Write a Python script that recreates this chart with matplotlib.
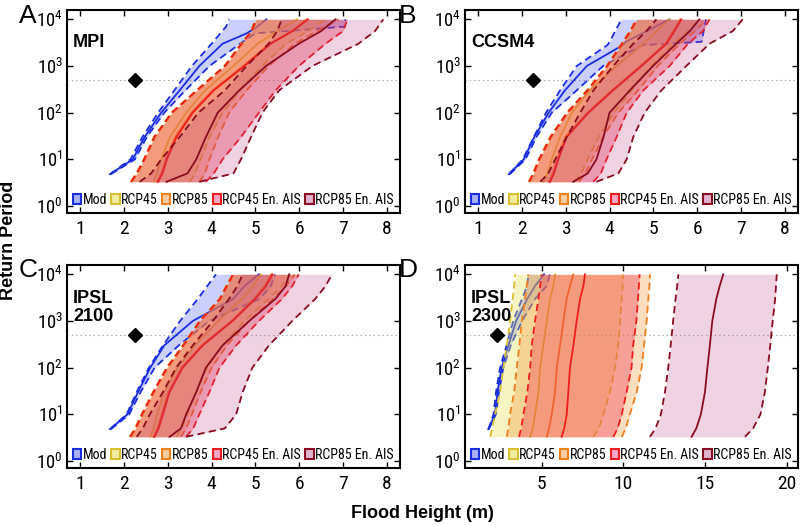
import math
import matplotlib
matplotlib.use('Agg')
import matplotlib.pyplot as plt
from matplotlib import font_manager as fm
from matplotlib.patches import Patch
from matplotlib.ticker import FixedLocator, FuncFormatter, NullLocator


def pick(names):
    for n in names:
        try:
            fm.findfont(fm.FontProperties(family=n), fallback_to_default=False)
            return n
        except Exception:
            pass
    return 'DejaVu Sans'


NARROW = pick(['Liberation Sans Narrow', 'Arial Narrow', 'Roboto Condensed', 'Liberation Sans'])
BOLD = pick(['Liberation Sans', 'Arial', 'DejaVu Sans'])
plt.rcParams['font.family'] = [NARROW, 'DejaVu Sans']
plt.rcParams['mathtext.fontset'] = 'custom'
plt.rcParams['mathtext.rm'] = NARROW
plt.rcParams['mathtext.default'] = 'regular'

# ---------------- data ----------------
series_names = ['Mod', 'RCP45', 'RCP85', 'RCP45 En. AIS', 'RCP85 En. AIS']
panel_letters = ['A', 'B', 'C', 'D']
panel_titles = ['MPI', 'CCSM4', 'IPSL\n2100', 'IPSL\n2300']
obs_height = 2.25
obs_return_period = 500

return_period = [3.3, 5, 10, 30, 100, 300, 1000, 3000, 5600, 10000]

# Panel A (MPI)
A_mod_rp = [4.8, 10, 30, 100, 300, 1000, 3000, 5000, 7000, 10000]
A_mod_lo = [1.68, 2.15, 2.42, 2.78, 3.15, 3.55, 4.0, 4.2, 4.33, 4.4]
A_mod_med = [1.68, 2.2, 2.47, 2.85, 3.27, 3.72, 4.25, 4.8, 5.05, 5.25]
A_mod_hi = [1.70, 2.25, 2.52, 2.92, 3.4, 3.95, 4.65, 5.0, 7.05, 7.05]
A_rcp45_lo = [2.15, 2.28, 2.45, 2.68, 3.08, 3.65, 4.29, 4.67, 4.9, 5.0]
A_rcp45_med = [2.68, 2.75, 2.85, 3.05, 3.42, 3.85, 4.5, 5.05, 5.5, 5.95]
A_rcp45_hi = [3.5, 3.62, 3.75, 3.95, 4.25, 4.65, 5.15, 5.7, 6.2, 6.6]
A_rcp85_lo = [2.18, 2.31, 2.48, 2.71, 3.11, 3.68, 4.32, 4.7, 4.93, 5.03]
A_rcp85_med = [2.75, 2.85, 2.95, 3.17, 3.54, 4.02, 4.72, 5.32, 5.82, 6.17]
A_rcp85_hi = [3.72, 3.85, 3.95, 4.15, 4.4, 4.8, 5.3, 5.9, 6.4, 6.9]
A_ais45_lo = [2.16, 2.29, 2.46, 2.69, 3.09, 3.66, 4.3, 4.68, 4.91, 5.01]
A_ais45_med = [2.78, 2.88, 2.98, 3.2, 3.57, 4.05, 4.75, 5.35, 5.85, 6.2]
A_ais45_hi = [3.87, 4.05, 4.25, 4.67, 5.08, 5.46, 5.99, 6.6, 7.0, 7.1]
A_ais85_lo = [2.36, 2.62, 2.85, 3.27, 3.7, 4.3, 4.8, 5.3, 5.5, 5.6]
A_ais85_med = [2.97, 3.45, 3.65, 3.87, 4.14, 4.63, 5.24, 5.99, 6.5, 6.83]
A_ais85_hi = [3.72, 4.5, 4.67, 4.9, 5.16, 5.54, 6.3, 7.35, 7.73, 7.92]

# Panel B (CCSM4)
B_mod_rp = [4.8, 10, 30, 100, 300, 1000, 2800, 3300, 10000]
B_mod_lo = [1.70, 2.02, 2.27, 2.55, 2.87, 3.25, 3.95, 4.0, 4.27]
B_mod_med = [1.70, 2.04, 2.28, 2.61, 2.98, 3.48, 4.3, 4.37, 5.37]
B_mod_hi = [1.72, 2.08, 2.33, 2.68, 3.25, 3.85, 4.75, 6.1, 6.2]
B_rcp45_lo = [2.15, 2.25, 2.38, 2.64, 3.02, 3.48, 3.93, 4.27, 4.46, 4.61]
B_rcp45_med = [2.49, 2.58, 2.68, 2.87, 3.14, 3.55, 4.16, 4.77, 5.07, 5.37]
B_rcp45_hi = [3.2, 3.35, 3.5, 3.75, 4.1, 4.5, 4.95, 5.45, 5.8, 6.05]
B_rcp85_lo = [2.18, 2.28, 2.41, 2.67, 3.05, 3.51, 3.96, 4.3, 4.49, 4.64]
B_rcp85_med = [2.61, 2.7, 2.8, 2.99, 3.49, 4.05, 4.7, 5.27, 5.45, 5.61]
B_rcp85_hi = [3.3, 3.45, 3.6, 3.85, 4.2, 4.65, 5.1, 5.6, 5.95, 6.2]
B_ais45_lo = [2.16, 2.26, 2.39, 2.65, 3.03, 3.49, 3.94, 4.28, 4.47, 4.62]
B_ais45_med = [2.64, 2.73, 2.83, 3.02, 3.52, 4.08, 4.73, 5.3, 5.48, 5.64]
B_ais45_hi = [3.63, 3.8, 3.93, 4.16, 4.39, 4.77, 5.37, 5.79, 6.13, 6.28]
B_ais85_lo = [2.42, 2.6, 2.76, 3.02, 3.33, 3.63, 4.08, 4.54, 4.84, 5.07]
B_ais85_med = [3.17, 3.5, 3.7, 3.86, 4.0, 4.46, 4.99, 5.52, 5.83, 6.05]
B_ais85_hi = [3.7, 4.2, 4.39, 4.54, 4.8, 5.18, 5.75, 6.28, 6.81, 7.04]

# Panel C (IPSL 2100)
C_mod_rp = [4.8, 10, 30, 100, 300, 1000, 3000, 5600, 10000]
C_mod_lo = [1.68, 2.06, 2.29, 2.57, 2.89, 3.28, 3.69, 3.9, 4.1]
C_mod_med = [1.68, 2.08, 2.32, 2.6, 2.92, 3.57, 4.5, 4.75, 5.08]
C_mod_hi = [1.70, 2.12, 2.38, 2.7, 3.25, 3.95, 5.1, 5.35, 5.45]
C_rcp45_lo = [2.13, 2.25, 2.4, 2.66, 2.97, 3.34, 3.72, 4.18, 4.33, 4.48]
C_rcp45_med = [2.6, 2.68, 2.76, 2.92, 3.22, 3.62, 4.15, 4.7, 4.95, 5.12]
C_rcp45_hi = [3.2, 3.32, 3.45, 3.65, 3.9, 4.25, 4.75, 5.3, 5.6, 5.8]
C_rcp85_lo = [2.16, 2.28, 2.43, 2.69, 3.0, 3.37, 3.75, 4.21, 4.36, 4.51]
C_rcp85_med = [2.67, 2.76, 2.86, 3.01, 3.31, 3.77, 4.45, 4.97, 5.21, 5.36]
C_rcp85_hi = [3.3, 3.42, 3.55, 3.75, 4.0, 4.35, 4.85, 5.4, 5.7, 5.9]
C_ais45_lo = [2.14, 2.26, 2.41, 2.67, 2.98, 3.35, 3.73, 4.19, 4.34, 4.49]
C_ais45_med = [2.7, 2.79, 2.89, 3.04, 3.34, 3.8, 4.48, 5.0, 5.24, 5.39]
C_ais45_hi = [3.42, 3.58, 3.72, 3.95, 4.18, 4.56, 5.08, 5.61, 5.84, 5.99]
C_ais85_lo = [2.29, 2.43, 2.59, 2.89, 3.19, 3.57, 4.03, 4.4, 4.59, 4.71]
C_ais85_med = [3.04, 3.3, 3.42, 3.65, 3.87, 4.25, 4.86, 5.46, 5.69, 5.77]
C_ais85_hi = [3.42, 4.3, 4.56, 4.71, 4.93, 5.31, 5.84, 6.37, 6.6, 6.75]

# Panel D (IPSL 2300)
D_mod_rp = [4.8, 10, 30, 100, 300, 1000, 3000, 5600, 10000]
D_mod_lo = [1.73, 2.05, 2.2, 2.45, 2.85, 3.25, 3.8, 4.1, 4.2]
D_mod_med = [1.73, 2.14, 2.29, 2.55, 2.96, 3.43, 4.12, 4.59, 5.14]
D_mod_hi = [1.75, 2.2, 2.38, 2.65, 3.1, 3.8, 4.6, 5.3, 5.5]
D_rcp45_lo = [1.84, 1.98, 2.14, 2.45, 2.65, 2.86, 3.06, 3.22, 3.31, 3.37]
D_rcp45_med = [4.29, 4.45, 4.59, 4.8, 4.9, 5.1, 5.31, 5.51, 5.71, 5.82]
D_rcp45_hi = [8.16, 8.5, 8.78, 9.18, 9.49, 9.69, 9.8, 9.9, 9.96, 10.0]
D_rcp85_lo = [2.86, 2.95, 3.06, 3.31, 3.47, 3.63, 3.78, 3.98, 4.08, 4.18]
D_rcp85_med = [5.31, 5.45, 5.61, 5.82, 5.92, 6.12, 6.33, 6.53, 6.73, 6.94]
D_rcp85_hi = [9.9, 10.15, 10.4, 10.82, 11.12, 11.27, 11.43, 11.53, 11.6, 11.63]
D_ais45_lo = [3.61, 3.74, 3.88, 4.12, 4.29, 4.39, 4.59, 4.8, 4.9, 5.0]
D_ais45_med = [6.22, 6.38, 6.53, 6.63, 6.73, 6.94, 7.14, 7.35, 7.55, 7.65]
D_ais45_hi = [9.39, 9.65, 9.9, 10.2, 10.5, 10.6, 10.8, 10.9, 10.95, 11.0]
D_ais85_lo = [11.63, 11.97, 12.3, 12.55, 12.75, 12.9, 13.05, 13.2, 13.3, 13.37]
D_ais85_med = [14.18, 14.47, 14.75, 15.0, 15.15, 15.3, 15.45, 15.7, 15.9, 16.12]
D_ais85_hi = [17.45, 17.95, 18.4, 18.67, 18.85, 19.0, 19.15, 19.3, 19.35, 19.4]

x_ticks_ABC = [1, 2, 3, 4, 5, 6, 7, 8]
x_ticks_D = [5, 10, 15, 20]
y_ticks = [1, 10, 100, 1000, 10000]

# ---------------- styles ----------------
line_colors = ['#1a2ee0', '#d8c030', '#f07f1e', '#ee1c1c', '#8a0c20']
fill_colors = ['#3040f0', '#e8e050', '#f59030', '#f03050', '#b83a80']
fill_alpha = [0.25, 0.35, 0.30, 0.35, 0.22]
legend_faces = ['#aab2f4', '#f0eca0', '#f8cca4', '#f8a8c8', '#e0b4d0']

panel_data = {
    'A': (A_mod_rp, A_mod_lo, A_mod_med, A_mod_hi,
          [(A_rcp45_lo, A_rcp45_med, A_rcp45_hi), (A_rcp85_lo, A_rcp85_med, A_rcp85_hi),
           (A_ais45_lo, A_ais45_med, A_ais45_hi), (A_ais85_lo, A_ais85_med, A_ais85_hi)]),
    'B': (B_mod_rp, B_mod_lo, B_mod_med, B_mod_hi,
          [(B_rcp45_lo, B_rcp45_med, B_rcp45_hi), (B_rcp85_lo, B_rcp85_med, B_rcp85_hi),
           (B_ais45_lo, B_ais45_med, B_ais45_hi), (B_ais85_lo, B_ais85_med, B_ais85_hi)]),
    'C': (C_mod_rp, C_mod_lo, C_mod_med, C_mod_hi,
          [(C_rcp45_lo, C_rcp45_med, C_rcp45_hi), (C_rcp85_lo, C_rcp85_med, C_rcp85_hi),
           (C_ais45_lo, C_ais45_med, C_ais45_hi), (C_ais85_lo, C_ais85_med, C_ais85_hi)]),
    'D': (D_mod_rp, D_mod_lo, D_mod_med, D_mod_hi,
          [(D_rcp45_lo, D_rcp45_med, D_rcp45_hi), (D_rcp85_lo, D_rcp85_med, D_rcp85_hi),
           (D_ais45_lo, D_ais45_med, D_ais45_hi), (D_ais85_lo, D_ais85_med, D_ais85_hi)]),
}

W, H = 800, 525
fig = plt.figure(figsize=(8, 5.25), dpi=100)
ax_w, ax_h = 333 / W, 203 / H
positions = {
    'A': [67 / W, 1 - 213 / H, ax_w, ax_h],
    'B': [465 / W, 1 - 213 / H, ax_w, ax_h],
    'C': [67 / W, 1 - 468 / H, ax_w, ax_h],
    'D': [465 / W, 1 - 468 / H, ax_w, ax_h],
}
dash = (0, (4, 2.4))


def band(ax, y, lo, med, hi, i):
    z = 1 + i
    ax.fill_betweenx(y, lo, hi, color=fill_colors[i], alpha=fill_alpha[i], lw=0, zorder=z)
    ax.plot(lo, y, ls=dash, color=line_colors[i], lw=1.3, zorder=z + 0.5)
    ax.plot(hi, y, ls=dash, color=line_colors[i], lw=1.3, zorder=z + 0.5)
    ax.plot(med, y, '-', color=line_colors[i], lw=1.3, zorder=z + 0.5)


for key, title in zip(panel_letters, panel_titles):
    ax = fig.add_axes(positions[key])
    mrp, mlo, mmed, mhi, proj = panel_data[key]
    ax.axhline(obs_return_period, color='#a0a0a0', ls=(0, (1, 2.5)), lw=0.9, zorder=0.5)
    band(ax, mrp, mlo, mmed, mhi, 0)
    for j, (lo, med, hi) in enumerate(proj):
        band(ax, return_period, lo, med, hi, j + 1)
    ax.plot([obs_height], [obs_return_period], 'D', color='k', ms=7, zorder=10)

    ax.set_yscale('log')
    ax.set_ylim(10 ** -0.15, 10 ** 4.2)
    if key == 'D':
        ax.set_xlim(0.3, 20.7)
        ax.xaxis.set_major_locator(FixedLocator(x_ticks_D))
    else:
        ax.set_xlim(0.7, 8.3)
        ax.xaxis.set_major_locator(FixedLocator(x_ticks_ABC))
    ax.yaxis.set_major_locator(FixedLocator(y_ticks))
    ax.yaxis.set_minor_locator(NullLocator())
    ax.yaxis.set_major_formatter(FuncFormatter(
        lambda v, p: r'$10^{%d}$' % round(math.log10(v))))
    ax.tick_params(direction='in', top=True, right=True, length=4, width=1,
                   labelsize=13.5, pad=3)
    ax.tick_params(axis='x', pad=5, labelsize=14)
    for sp in ax.spines.values():
        sp.set_linewidth(1.5)
        sp.set_zorder(30)

    ax.text(0.018, 0.79 if '\n' in title else 0.84, title, transform=ax.transAxes,
            family=BOLD, fontweight='bold', fontsize=13, va='center', ha='left',
            linespacing=1.05, zorder=12)

    handles = [Patch(facecolor=legend_faces[i], edgecolor=line_colors[i], lw=1.5)
               for i in range(5)]
    leg = ax.legend(handles, series_names, loc='center left', bbox_to_anchor=(0.018, 0.064),
                    ncol=5, frameon=False, fontsize=10, handlelength=0.6, handleheight=0.65,
                    handletextpad=0.1, columnspacing=0.3, borderpad=0, borderaxespad=0)
    leg.set_zorder(20)

letter_pos = {'A': (28, 16), 'B': (408, 16), 'C': (28, 270), 'D': (408, 270)}
for k, (px, py) in letter_pos.items():
    fig.text(px / W, 1 - py / H, k, family=BOLD, fontsize=19, ha='center', va='center')

fig.text(9 / W, 1 - 240 / H, 'Return Period', rotation=90, family=BOLD,
         fontweight='bold', fontsize=13, ha='center', va='center')
fig.text(422 / W, 1 - 513 / H, 'Flood Height (m)', family=BOLD,
         fontweight='bold', fontsize=13, ha='center', va='center')

fig.savefig('out.png', dpi=100)
